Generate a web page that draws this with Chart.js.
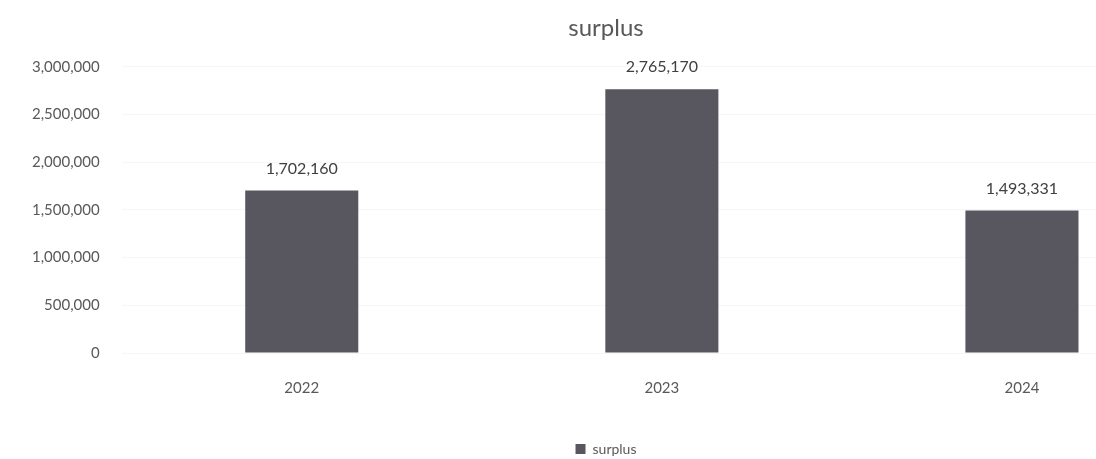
<!DOCTYPE html>
<html>
<head>
<meta charset="utf-8">
<script src="https://cdn.jsdelivr.net/npm/chart.js@4/dist/chart.umd.min.js"></script>
<style>
  html, body { margin: 0; padding: 0; background: #fff; overflow: hidden; }
  #wrap { position: absolute; left: 0; top: 0; width: 1202px; height: 459px; }
</style>
</head>
<body>
<div id="wrap"><canvas id="surplusChart" width="1202" height="459"></canvas></div>
<script>
// surplus by year
const years = ['2022', '2023', '2024'];
const surplus = [1702160, 2765170, 1493331];
const yTicks = [0, 500000, 1000000, 1500000, 2000000, 2500000, 3000000];

const fmt = v => v.toLocaleString('en-US');
const FONT = 'Lato, "Open Sans", sans-serif';

// writes the value above each bar
const valueLabels = {
    id: 'valueLabels',
    afterDatasetsDraw(chart) {
        const { ctx } = chart;
        const meta = chart.getDatasetMeta(0);
        ctx.save();
        ctx.font = '16px ' + FONT;
        ctx.fillStyle = '#404040';
        ctx.textAlign = 'center';
        ctx.textBaseline = 'bottom';
        meta.data.forEach((bar, i) => {
            ctx.fillText(fmt(chart.data.datasets[0].data[i]), bar.x, bar.y - 14);
        });
        ctx.restore();
    }
};

new Chart(document.getElementById('surplusChart'), {
    type: 'bar',
    data: {
        labels: years,
        datasets: [{
            label: 'surplus',
            data: surplus,
            backgroundColor: '#58575f',
            borderWidth: 0,
            categoryPercentage: 1,
            barPercentage: 0.314
        }]
    },
    options: {
        responsive: false,
        animation: false,
        layout: { padding: { left: 10, right: 0, top: 10, bottom: -7 } },
        plugins: {
            title: {
                display: true,
                text: 'surplus',
                color: '#595959',
                font: { family: FONT, size: 24, weight: 'normal' },
                padding: { top: 4, bottom: 24 }
            },
            legend: {
                position: 'bottom',
                labels: {
                    boxWidth: 10,
                    boxHeight: 10,
                    color: '#595959',
                    font: { family: FONT, size: 14 },
                    padding: 2
                }
            },
            tooltip: { enabled: false }
        },
        scales: {
            x: {
                grid: { display: false },
                border: { display: false },
                // extra room between the year labels and the legend
                afterFit: axis => { axis.height += 25; },
                ticks: {
                    color: '#595959',
                    font: { family: FONT, size: 15 },
                    padding: 18
                }
            },
            y: {
                min: 0,
                max: 3000000,
                afterBuildTicks: axis => { axis.ticks = yTicks.map(v => ({ value: v })); },
                grid: { color: 'rgba(0,0,0,0.035)', drawTicks: false },
                border: { display: false },
                ticks: {
                    color: '#595959',
                    font: { family: FONT, size: 15 },
                    padding: 22,
                    callback: v => fmt(v)
                }
            }
        }
    },
    plugins: [valueLabels]
});
</script>
</body>
</html>
